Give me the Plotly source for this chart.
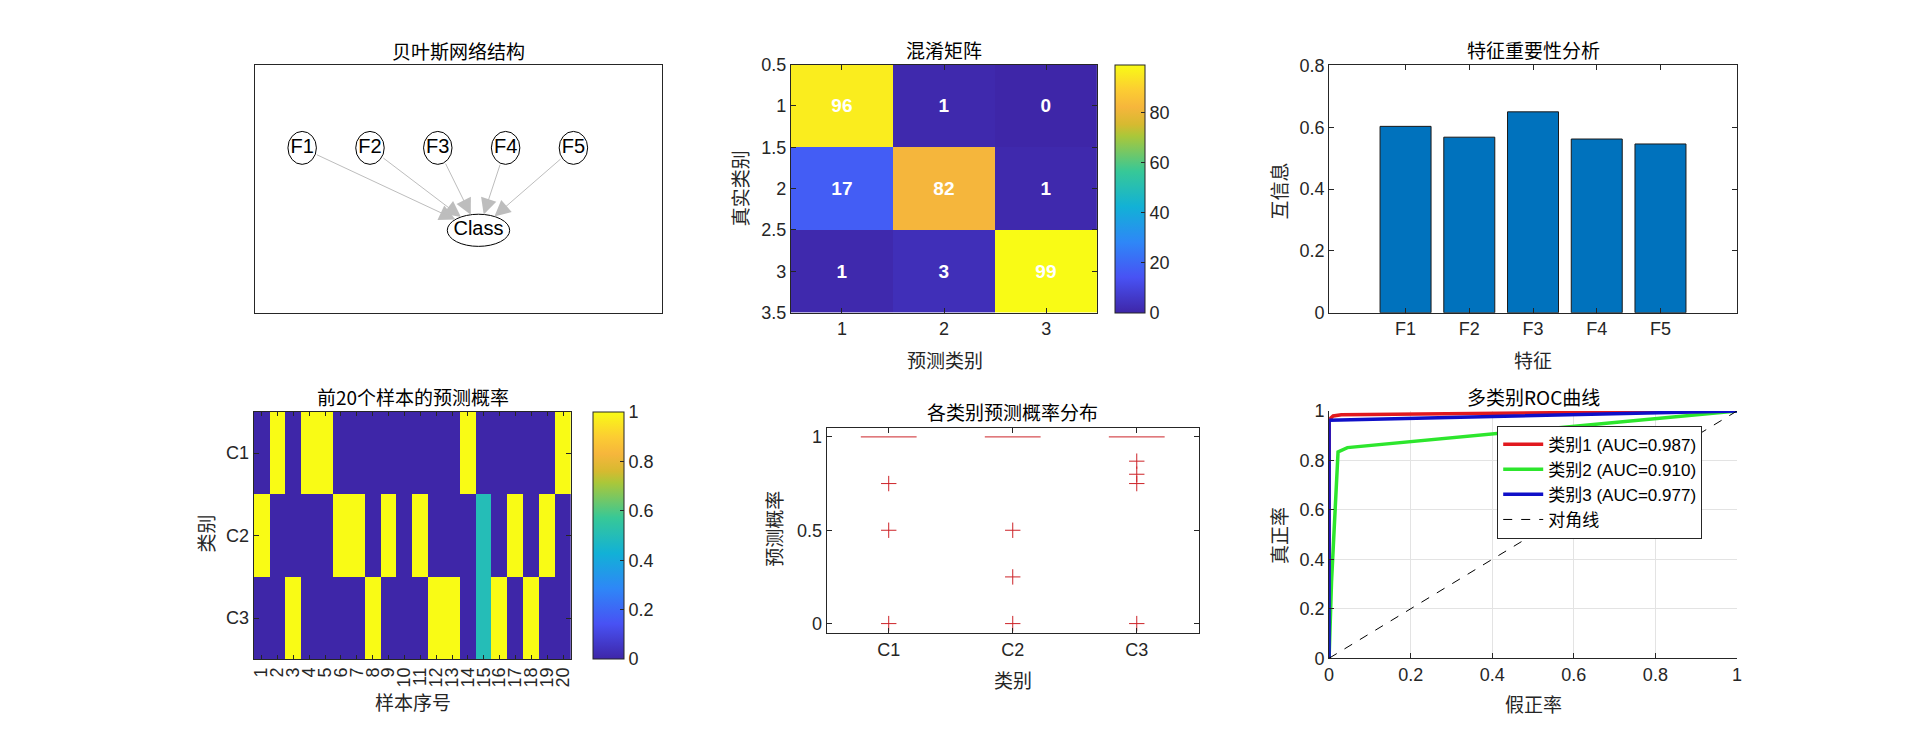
import math
import plotly.graph_objects as go

W, H = 1924, 750

# ---------------- data ----------------
# Bayesian network (node layout)
node_names = ['F1', 'F2', 'F3', 'F4', 'F5']
node_x = [0.7, 1.7, 2.7, 3.7, 4.7]
node_y = [2, 2, 2, 2, 2]
class_name = 'Class'
class_x = 3.3
class_y = 1

# Confusion matrix
cm_labels = [1, 2, 3]
cm_row1 = [96, 1, 0]
cm_row2 = [17, 82, 1]
cm_row3 = [1, 3, 99]

# Feature importance (mutual information)
features = ['F1', 'F2', 'F3', 'F4', 'F5']
feature_pos = [1, 2, 3, 4, 5]
mutual_info = [0.603, 0.568, 0.650, 0.562, 0.546]

# Predicted probabilities of first 20 samples
sample_idx = list(range(1, 21))
class_names = ['C1', 'C2', 'C3']
class_pos = [1, 2, 3]
prob_c1 = [0, 1, 0, 1, 1, 0, 0, 0, 0, 0, 0, 0, 0, 1, 0, 0, 0, 0, 0, 1]
prob_c2 = [1, 0, 0, 0, 0, 1, 1, 0, 1, 0, 1, 0, 0, 0, 0.5, 0, 1, 0, 1, 0]
prob_c3 = [0, 0, 1, 0, 0, 0, 0, 1, 0, 0, 0, 1, 1, 0, 0.5, 1, 0, 1, 0, 0]

# Box plot of predicted probability per class
box_medians = [1, 1, 1]
outliers_c1 = [0.75, 0.5, 0]
outliers_c2 = [0.5, 0.25, 0]
outliers_c3 = [0.87, 0.8, 0.75, 0]

# ROC curves
fpr_1 = [0, 0, 0.01, 0.03, 1]
tpr_1 = [0, 0.965, 0.98, 0.985, 1]
fpr_2 = [0, 0.006, 0.022, 0.045, 1]
tpr_2 = [0, 0.31, 0.835, 0.852, 1]
fpr_3 = [0, 0, 1]
tpr_3 = [0, 0.963, 1]
roc_names = ['类别1 (AUC=0.987)', '类别2 (AUC=0.910)', '类别3 (AUC=0.977)', '对角线']

# ---------------- style ----------------
parula = [
    [0.0, 'rgb(62,38,168)'],
    [1 / 7, 'rgb(72,82,244)'],
    [2 / 7, 'rgb(46,135,247)'],
    [3 / 7, 'rgb(18,177,214)'],
    [4 / 7, 'rgb(55,200,151)'],
    [5 / 7, 'rgb(171,199,57)'],
    [0.76, 'rgb(214,186,48)'],
    [0.83, 'rgb(246,182,60)'],
    [0.90, 'rgb(252,205,50)'],
    [1.0, 'rgb(249,251,21)'],
]
NUM_FONT = 'Liberation Sans, Arial, Noto Sans CJK SC, sans-serif'
CJK_FONT = 'Noto Sans CJK SC, Liberation Sans, sans-serif'
AX = '#262626'
TICKF = dict(family=NUM_FONT, size=18, color=AX)


def dxr(a, b):
    return [a / W, b / W]


def dyr(top, bottom):
    return [1 - bottom / H, 1 - top / H]


def axis(dom, **kw):
    d = dict(domain=dom, showline=True, linecolor=AX, linewidth=1, mirror='ticks',
             ticks='inside', ticklen=5, tickcolor=AX, tickfont=TICKF,
             zeroline=False, showgrid=False, fixedrange=True)
    d.update(kw)
    return d


def fmt(v):
    return '%g' % v


fig = go.Figure()

# ---------- 1. Bayesian network ----------
fig.add_trace(go.Scatter(x=node_x + [class_x], y=node_y + [class_y], mode='text',
                         text=node_names + [class_name],
                         textfont=dict(family=NUM_FONT, size=20, color='black'),
                         xaxis='x', yaxis='y', showlegend=False, hoverinfo='skip'))

shapes = []
annotations = []
FA, FB = 0.21, 0.20       # feature ellipse half axes (data units)
CA, CB = 0.46, 0.195      # class ellipse half axes
sx = (660 - 251) / 6.0
sy = (311 - 57) / 3.0
for nx, ny in zip(node_x, node_y):
    shapes.append(dict(type='circle', xref='x', yref='y', x0=nx - FA, x1=nx + FA,
                       y0=ny - FB, y1=ny + FB, line=dict(color='black', width=1),
                       fillcolor='white', layer='below'))
    vx = (class_x - nx) * sx
    vy = (class_y - ny) * sy
    ts = 1 / math.sqrt((vx / (FA * sx)) ** 2 + (vy / (FB * sy)) ** 2)
    te = 1 - 1 / math.sqrt((vx / (CA * sx)) ** 2 + (vy / (CB * sy)) ** 2)
    annotations.append(dict(xref='x', yref='y', axref='x', ayref='y',
                            x=nx + te * (class_x - nx), y=ny + te * (class_y - ny),
                            ax=nx + ts * (class_x - nx), ay=ny + ts * (class_y - ny),
                            text='', showarrow=True, arrowhead=2, arrowsize=3.2,
                            arrowwidth=1, arrowcolor='#BDBDBD'))
shapes.append(dict(type='circle', xref='x', yref='y', x0=class_x - CA, x1=class_x + CA,
                   y0=class_y - CB, y1=class_y + CB, line=dict(color='black', width=1),
                   fillcolor='white', layer='below'))

# ---------- 2. Confusion matrix ----------
fig.add_trace(go.Heatmap(z=[cm_row1, cm_row2, cm_row3], x=cm_labels, y=cm_labels,
                         colorscale=parula, zmin=0, zmax=99, xaxis='x2', yaxis='y2',
                         texttemplate='<b>%{z}</b>',
                         textfont=dict(family=NUM_FONT, size=19, color='white'),
                         hoverinfo='skip',
                         colorbar=dict(x=1116 / W, xanchor='left', thickness=30,
                                       thicknessmode='pixels', len=255 / H, lenmode='fraction',
                                       y=1 - 183.5 / H, yanchor='middle',
                                       outlinecolor=AX, outlinewidth=1,
                                       tickvals=[0, 20, 40, 60, 80], ticks='inside',
                                       ticklen=4, tickcolor=AX, tickfont=TICKF, xpad=0, ypad=0)))

# ---------- 3. Feature importance ----------
fig.add_trace(go.Bar(x=feature_pos, y=mutual_info, width=0.8,
                     marker=dict(color='#0072BD', line=dict(color='#1a1a1a', width=1)),
                     xaxis='x3', yaxis='y3', showlegend=False, hoverinfo='skip'))

# ---------- 4. Probabilities of first 20 samples ----------
fig.add_trace(go.Heatmap(z=[prob_c1, prob_c2, prob_c3], x=sample_idx, y=class_pos,
                         colorscale=parula, zmin=0, zmax=1, xaxis='x4', yaxis='y4',
                         hoverinfo='skip',
                         colorbar=dict(x=591 / W, xanchor='left', thickness=31,
                                       thicknessmode='pixels', len=254 / H, lenmode='fraction',
                                       y=1 - 540 / H, yanchor='middle',
                                       outlinecolor=AX, outlinewidth=1,
                                       tickvals=[0, 0.2, 0.4, 0.6, 0.8, 1],
                                       ticktext=['0', '0.2', '0.4', '0.6', '0.8', '1'],
                                       ticks='inside', ticklen=4, tickcolor=AX,
                                       tickfont=TICKF, xpad=0, ypad=0)))

# ---------- 5. Box plot (collapsed boxes + outliers) ----------
RED = 'rgb(205,35,40)'
half_w = 0.225
mx, my = [], []
for c, m in zip(class_pos, box_medians):
    mx += [c - half_w, c + half_w, None]
    my += [m, m, None]
fig.add_trace(go.Scatter(x=mx, y=my, mode='lines', line=dict(color=RED, width=1),
                         xaxis='x5', yaxis='y5', showlegend=False, hoverinfo='skip'))
for c, outs in zip(class_pos, [outliers_c1, outliers_c2, outliers_c3]):
    fig.add_trace(go.Scatter(x=[c] * len(outs), y=outs, mode='markers',
                             marker=dict(symbol='cross-thin', size=11,
                                         line=dict(color=RED, width=1)),
                             xaxis='x5', yaxis='y5', showlegend=False, hoverinfo='skip'))

# ---------- 6. ROC ----------
roc_colors = ['rgb(225,25,30)', 'rgb(45,230,45)', 'rgb(15,15,200)']
for fp, tp, col, nm in zip([fpr_1, fpr_2, fpr_3], [tpr_1, tpr_2, tpr_3], roc_colors, roc_names[:3]):
    fig.add_trace(go.Scatter(x=fp, y=tp, mode='lines', line=dict(color=col, width=3.5),
                             name=nm, xaxis='x6', yaxis='y6', hoverinfo='skip'))
fig.add_trace(go.Scatter(x=[0, 1], y=[0, 1], mode='lines',
                         line=dict(color='black', width=1, dash='dash'),
                         name=roc_names[3], xaxis='x6', yaxis='y6', hoverinfo='skip'))


# ---------- titles and labels ----------
def txt(x, y, s, size=19, color='black', angle=0):
    annotations.append(dict(xref='paper', yref='paper', x=x / W, y=1 - y / H, text=s,
                            showarrow=False, textangle=angle, xanchor='center', yanchor='middle',
                            font=dict(family=CJK_FONT, size=size, color=color)))


txt(456, 42, '贝叶斯网络结构')
txt(944, 41, '混淆矩阵')
txt(1536, 41, '特征重要性分析')
txt(410, 397, '前20个样本的预测概率')
txt(1013, 413, '各类别预测概率分布')
txt(1536, 397, '多类别ROC曲线')

LAB = '#262626'
txt(945, 359, '预测类别', color=LAB)
txt(738, 183, '真实类别', color=LAB, angle=-90)
txt(1536, 359, '特征', color=LAB)
txt(1280, 186, '互信息', color=LAB, angle=-90)
txt(410, 710, '样本序号', color=LAB)
txt(202, 538, '类别', color=LAB, angle=-90)
txt(1013, 688, '类别', color=LAB)
txt(773, 533, '预测概率', color=LAB, angle=-90)
txt(1536, 713, '假正率', color=LAB)
txt(1280, 540, '真正率', color=LAB, angle=-90)

cm_ticks = [0.5, 1, 1.5, 2, 2.5, 3, 3.5]
grid_ticks = [0, 0.2, 0.4, 0.6, 0.8, 1]

fig.update_layout(
    width=W, height=H, autosize=False,
    margin=dict(l=0, r=0, t=0, b=0),
    paper_bgcolor='white', plot_bgcolor='white',
    font=dict(family=NUM_FONT, color=AX),
    shapes=shapes, annotations=annotations,
    # 1 Bayes
    xaxis=axis(dxr(251, 660), anchor='y', range=[0, 6], ticks='', showticklabels=False, mirror=True),
    yaxis=axis(dyr(57, 311), anchor='x', range=[0, 3], ticks='', showticklabels=False, mirror=True),
    # 2 CM
    xaxis2=axis(dxr(790, 1098), anchor='y2', range=[0.5, 3.5], tickvals=cm_labels,
                ticktext=[str(v) for v in cm_labels]),
    yaxis2=axis(dyr(56, 311), anchor='x2', range=[3.5, 0.5], tickvals=cm_ticks,
                ticktext=[fmt(v) for v in cm_ticks]),
    # 3 Bar
    xaxis3=axis(dxr(1331, 1741), anchor='y3', range=[-0.2, 6.2], tickvals=feature_pos,
                ticktext=features),
    yaxis3=axis(dyr(57, 311), anchor='x3', range=[0, 0.8], tickvals=[0, 0.2, 0.4, 0.6, 0.8],
                ticktext=['0', '0.2', '0.4', '0.6', '0.8']),
    # 4 Heatmap 20 samples
    xaxis4=axis(dxr(250, 569), anchor='y4', range=[0.5, 20.5], tickvals=sample_idx,
                ticktext=[str(v) for v in sample_idx], tickangle=-90, ticklen=4),
    yaxis4=axis(dyr(413, 667), anchor='x4', range=[3.5, 0.5], tickvals=class_pos,
                ticktext=class_names),
    # 5 Box
    xaxis5=axis(dxr(826, 1200), anchor='y5', range=[0.5, 3.5], tickvals=class_pos,
                ticktext=class_names),
    yaxis5=axis(dyr(429, 640), anchor='x5', range=[-0.05, 1.05], tickvals=[0, 0.5, 1],
                ticktext=['0', '0.5', '1']),
    # 6 ROC
    xaxis6=axis(dxr(1331, 1741), anchor='y6', range=[0, 1], tickvals=grid_ticks,
                ticktext=[fmt(v) for v in grid_ticks], mirror=False, showgrid=True,
                gridcolor='#E3E3E3', gridwidth=1),
    yaxis6=axis(dyr(412, 666), anchor='x6', range=[0, 1], tickvals=grid_ticks,
                ticktext=[fmt(v) for v in grid_ticks], mirror=False, showgrid=True,
                gridcolor='#E3E3E3', gridwidth=1),
    legend=dict(x=1500 / W, y=1 - 427 / H, xanchor='left', yanchor='top',
                bgcolor='white', bordercolor=AX, borderwidth=1,
                font=dict(family=NUM_FONT, size=17, color='black'),
                tracegroupgap=0, itemwidth=40),
)

fig.write_html('out.html', include_plotlyjs=True, config={'displayModeBar': False},
               post_script="document.body.style.margin='0';document.body.style.overflow='hidden';")
